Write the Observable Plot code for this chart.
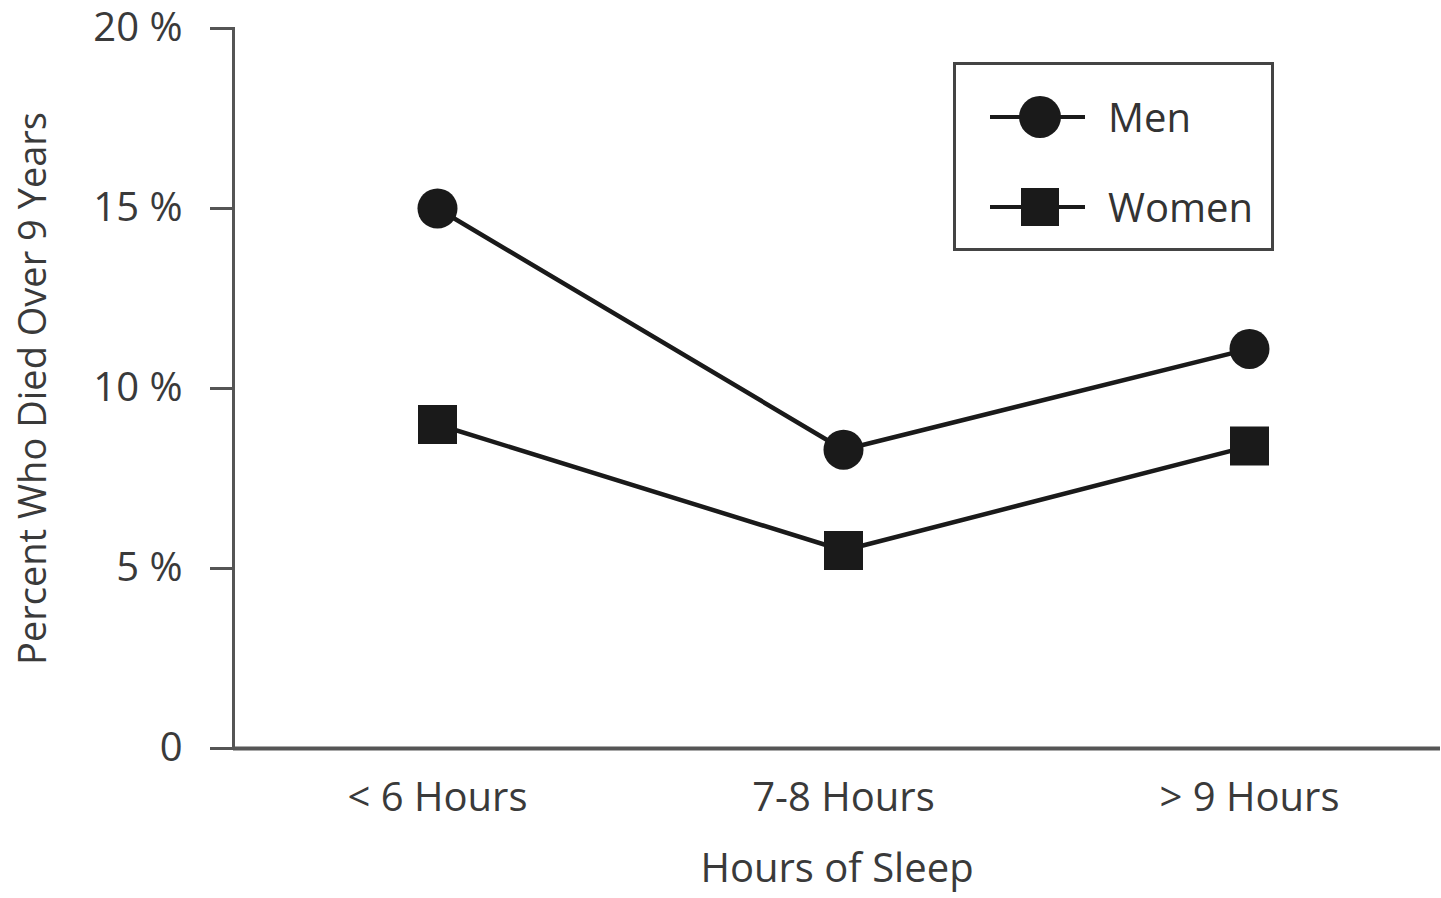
<!DOCTYPE html>
<html><head><meta charset="utf-8">
<script src="https://cdn.jsdelivr.net/npm/d3@7"></script>
<script src="https://cdn.jsdelivr.net/npm/@observablehq/plot@0.6"></script>
<style>
html,body{margin:0;padding:0;background:#fff;}
#wrap{position:relative;width:1441px;height:898px;font-family:"Open Sans",sans-serif;}
#wrap svg{overflow:visible;}
#legend{position:absolute;left:953px;top:62px;width:315px;height:183px;border:3px solid #444;background:#fff;box-sizing:content-box;}
.row{position:absolute;left:0;display:flex;align-items:center;font-size:40px;color:#333;}
</style>
</head><body>
<div id="wrap"></div>
<script>
const categories = ["< 6 Hours", "7-8 Hours", "> 9 Hours"];
const men = [15.0, 8.3, 11.1];
const women = [9.0, 5.5, 8.4];
const yTicks = [0, 5, 10, 15, 20];
const seriesNames = ["Men", "Women"];
const yLabel = "Percent Who Died Over 9 Years";
const xLabel = "Hours of Sleep";

const data = [
  ...categories.map((c, i) => ({cat: c, value: men[i], series: seriesNames[0]})),
  ...categories.map((c, i) => ({cat: c, value: women[i], series: seriesNames[1]}))
];
const menData = data.filter(d => d.series === "Men");
const womenData = data.filter(d => d.series === "Women");

const chart = Plot.plot({
  width: 1441,
  height: 898,
  marginLeft: 233,
  marginRight: 1,
  marginTop: 28,
  marginBottom: 150,
  style: {fontFamily: "'Open Sans', sans-serif", fontSize: "40px", color: "#3a3a3a", background: "#fff", overflow: "visible"},
  x: {type: "point", domain: categories, range: [233, 1452]},
  y: {domain: [0, 20]},
  marks: [
    Plot.axisY({ticks: yTicks, tickSize: 23, tickPadding: 28, tickFormat: d => d === 0 ? "0" : d + " %", label: null, stroke: "#555", strokeWidth: 3, fill: "#3a3a3a", fontSize: 40}),
    Plot.axisX({tickSize: 0, tickPadding: 34, label: null, fill: "#3a3a3a", fontSize: 40}),
    Plot.ruleY([0], {stroke: "#555", strokeWidth: 4}),
    Plot.frame({anchor: "left", stroke: "#555", strokeWidth: 3}),
    Plot.line(menData, {x: "cat", y: "value", stroke: "#1a1a1a", strokeWidth: 4.5}),
    Plot.line(womenData, {x: "cat", y: "value", stroke: "#1a1a1a", strokeWidth: 4.5}),
    Plot.dot(menData, {x: "cat", y: "value", r: 20, fill: "#1a1a1a", symbol: "circle"}),
    Plot.dot(womenData, {x: "cat", y: "value", r: 22, fill: "#1a1a1a", symbol: "square"}),
    Plot.text([yLabel], {frameAnchor: "left", textAnchor: "middle", dx: -200, rotate: -90, fontSize: 38, fill: "#3a3a3a"}),
    Plot.text([xLabel], {frameAnchor: "bottom", dy: 133, fontSize: 40, fill: "#3a3a3a"})
  ]
});
const wrap = document.getElementById("wrap");
wrap.appendChild(chart);

const legend = document.createElement("div");
legend.id = "legend";
const rows = [
  {name: seriesNames[0], shape: "circle", top: 22},
  {name: seriesNames[1], shape: "square", top: 112}
];
rows.forEach(r => {
  const row = document.createElement("div");
  row.className = "row";
  row.style.top = r.top + "px";
  const sym = r.shape === "circle"
    ? '<circle cx="84" cy="30" r="21" fill="#1a1a1a"/>'
    : '<rect x="65" y="11" width="38" height="38" fill="#1a1a1a"/>';
  row.innerHTML = '<svg width="150" height="60" style="display:block"><line x1="34" x2="129" y1="30" y2="30" stroke="#1a1a1a" stroke-width="4"/>' + sym + '</svg><span style="margin-left:2px;line-height:60px">' + r.name + '</span>';
  legend.appendChild(row);
});
wrap.appendChild(legend);
</script>
</body></html>
